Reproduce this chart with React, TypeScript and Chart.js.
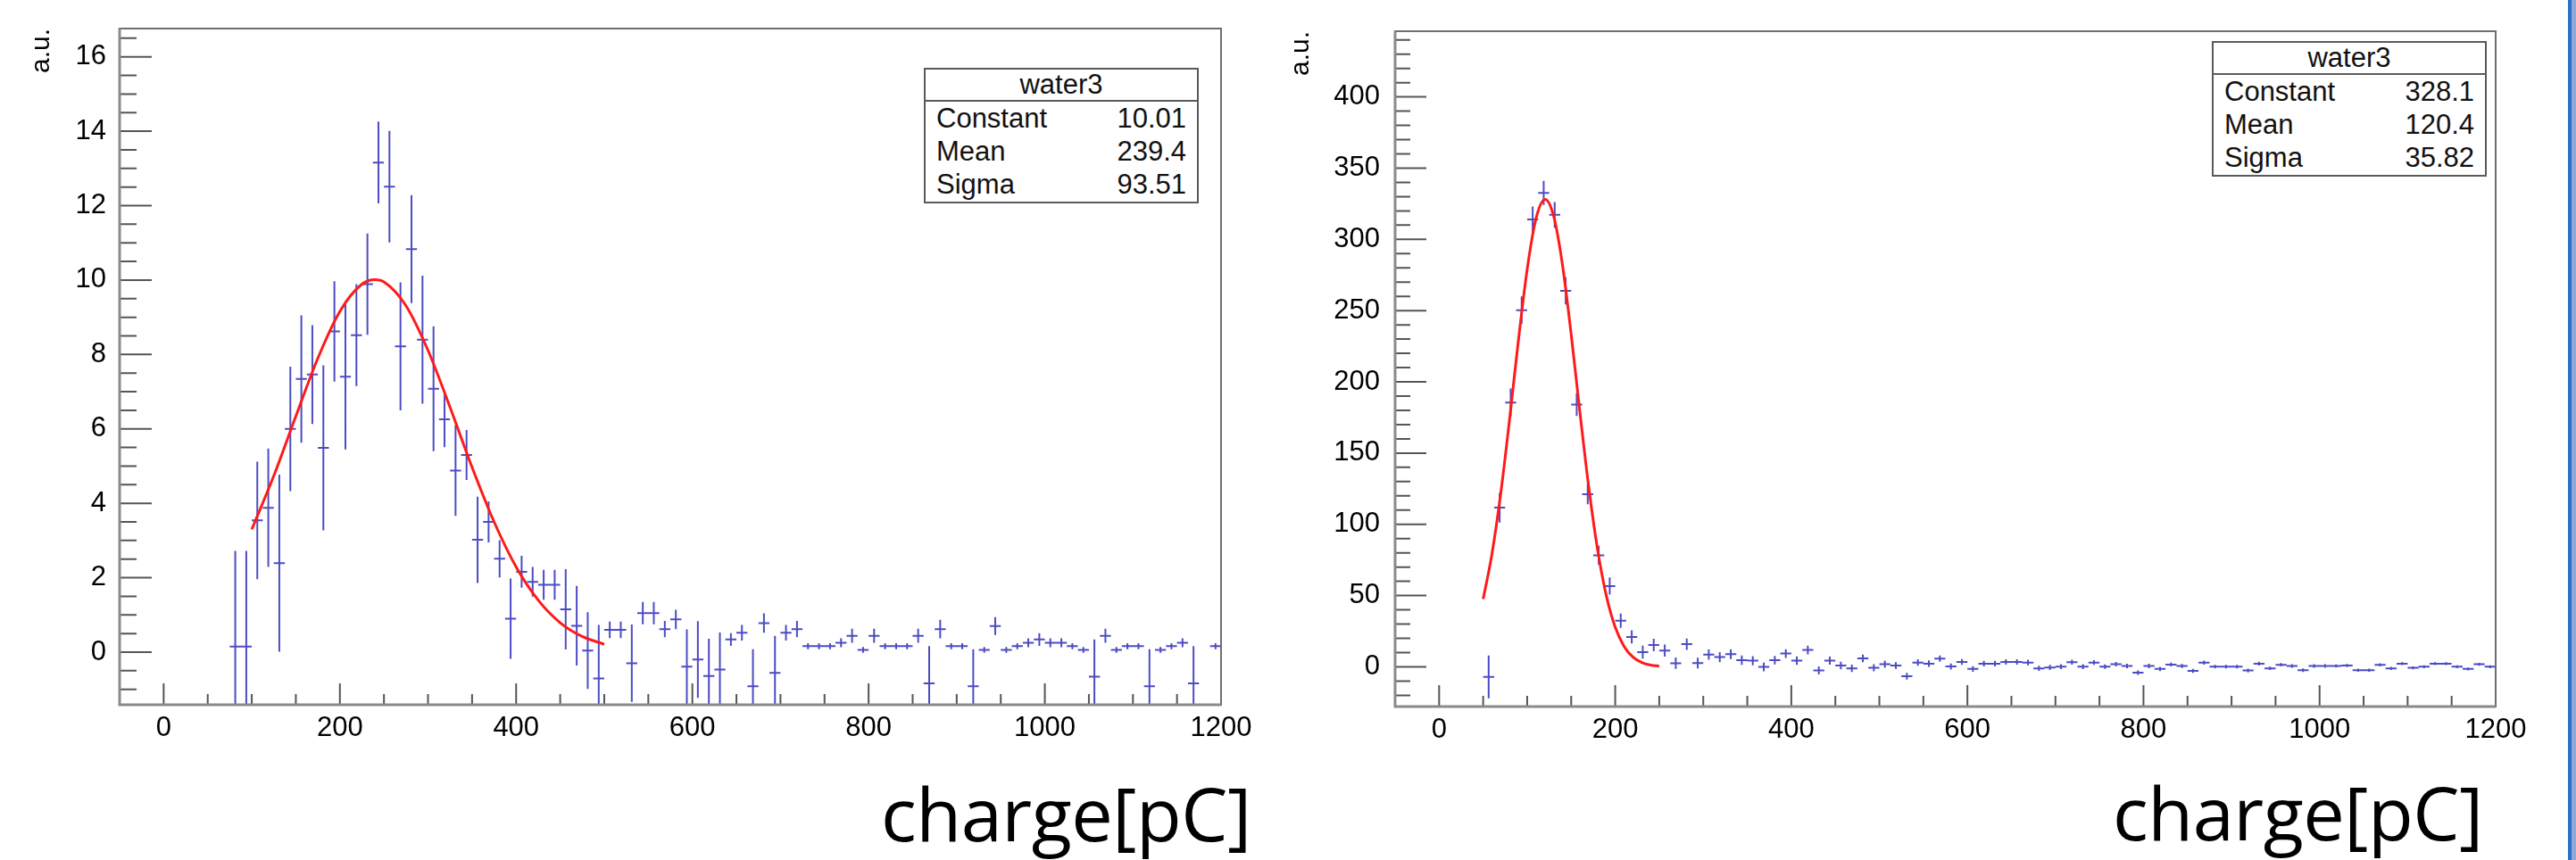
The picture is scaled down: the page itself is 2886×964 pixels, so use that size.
import React, { useEffect, useRef } from "react";
import { Chart, registerables } from "chart.js";

Chart.register(...registerables);

// ---------- shared binning / axes ----------
const X_MIN = -50;
const X_MAX = 1200;
const BIN_WIDTH = 12.5;
const X_TICKS = [0, 200, 400, 600, 800, 1000, 1200];
const X_MINOR_STEP = 50;
const AXIS_TITLE = "a.u.";
const X_TITLE = "charge[pC]";
const STAT_TITLE = "water3";
const STAT_NAMES = ["Constant", "Mean", "Sigma"];

// ---------- left panel ----------
const LEFT_FIRST_BIN_CENTER = 81.25;
const LEFT_VALUES: (number | null)[] = [
  0.15, 0.15, 3.54, 3.88, 2.39, 6.0, 7.34, 7.46, 5.49, 8.62,
  7.4, 8.52, 9.89, 13.16, 12.51, 8.22, 10.83, 8.4, 7.08, 6.26,
  4.88, 5.3, 3.02, 3.5, 2.51, 0.9, 2.16, 1.89, 1.81, 1.81,
  1.15, 0.71, 0.04, -0.71, 0.6, 0.6, -0.3, 1.05, 1.05, 0.62,
  0.88, -0.39, -0.2, -0.64, -0.47, 0.34, 0.52, -0.92, 0.78, -0.56,
  0.52, 0.62, 0.16, 0.16, 0.16, 0.25, 0.44, 0.06, 0.44, 0.16,
  0.16, 0.16, 0.44, -0.84, 0.62, 0.16, 0.16, -0.92, 0.06, 0.7,
  0.06, 0.16, 0.25, 0.34, 0.25, 0.25, 0.16, 0.06, -0.66, 0.44,
  0.06, 0.16, 0.16, -0.92, 0.06, 0.16, 0.25, -0.84, null, 0.16,
];
const LEFT_ERRORS = [
  2.57, 2.57, 1.58, 1.59, 2.38, 1.67, 1.71, 1.33, 2.22, 1.35,
  1.95, 1.37, 1.36, 1.1, 1.5, 1.72, 1.45, 1.72, 1.68, 0.75,
  1.22, 0.67, 1.16, 0.55, 0.5, 1.08, 0.43, 0.4, 0.4, 0.4,
  1.08, 1.07, 1.03, 1.44, 0.22, 0.22, 1.04, 0.3, 0.3, 0.22,
  0.26, 1.0, 1.03, 1.0, 1.0, 0.17, 0.21, 1.0, 0.26, 1.0,
  0.21, 0.22, 0.08, 0.08, 0.08, 0.12, 0.19, 0.08, 0.19, 0.08,
  0.08, 0.08, 0.19, 1.0, 0.25, 0.08, 0.08, 1.0, 0.08, 0.24,
  0.08, 0.08, 0.12, 0.17, 0.12, 0.12, 0.08, 0.08, 1.0, 0.19,
  0.08, 0.08, 0.08, 1.0, 0.08, 0.08, 0.12, 1.0, 0, 0.08,
];
const LEFT_Y_MIN = -1.415;
const LEFT_Y_MAX = 16.76;
const LEFT_Y_TICKS = [0, 2, 4, 6, 8, 10, 12, 14, 16];
const LEFT_Y_MINOR_STEP = 0.5;
const LEFT_FIT_X = [100, 125, 150, 175, 200, 225, 239.4, 250, 275, 300, 325, 350, 375, 400, 425, 450, 475, 500];
const LEFT_FIT_Y = [3.3, 4.74, 6.34, 7.9, 9.16, 9.89, 10.01, 9.95, 9.31, 8.11, 6.58, 4.97, 3.5, 2.29, 1.4, 0.79, 0.42, 0.21];
const LEFT_STAT_VALUES = ["10.01", "239.4", "93.51"];

// ---------- right panel ----------
const RIGHT_FIRST_BIN_CENTER = 56.25;
const RIGHT_VALUES: (number | null)[] = [
  -7.1, 111.7, 185.5, 250.3, 314.0, 332.6, 317.2, 263.9, 184.0, 121.1,
  78.3, 56.7, 32.4, 21.0, 10.3, 15.3, 11.4, 2.5, 15.9, 2.6,
  8.5, 6.8, 8.9, 4.7, 4.3, -0.1, 4.7, 9.3, 4.3, 11.8,
  -2.6, 4.3, 0.9, -1.1, 5.9, -0.7, 1.8, 0.9, -6.6, 3.0,
  2.2, 5.8, 0.2, 3.4, -1.5, 2.2, 2.2, 3.4, 3.4, 3.0,
  -1.1, -0.5, 0.1, 3.2, 0.1, 3.0, 0.1, 1.8, 0.6, -4.1,
  0.6, -1.5, 1.6, 0.6, -2.8, 3.0, 0.1, 0.1, 0.1, -2.6,
  2.2, -1.1, 1.4, 0.6, -2.4, 0.6, 0.6, 0.6, 0.9, -2.4,
  -2.4, 1.4, -1.1, 2.2, -0.7, 0.1, 2.2, 2.2, 0.1, -1.5,
  1.8, 0.1,
];
const RIGHT_ERRORS = [
  15, 10.4, 9.8, 9.6, 9.0, 8.5, 9.0, 9.5, 8.0, 7.0,
  6.7, 6.0, 5.0, 4.6, 4.5, 4.4, 4.2, 4.0, 4.0, 3.8,
  3.6, 3.5, 3.5, 3.3, 3.2, 3.1, 3.0, 3.0, 3.0, 3.0,
  2.8, 2.8, 2.7, 2.6, 2.6, 2.5, 2.5, 2.4, 2.4, 2.3,
  2.3, 2.2, 2.1, 2.1, 2.0, 2.0, 2.0, 1.9, 1.9, 1.9,
  1.8, 1.8, 1.7, 1.7, 1.7, 1.6, 1.6, 1.6, 1.5, 1.5,
  1.5, 1.5, 1.4, 1.4, 1.4, 1.4, 1.3, 1.3, 1.3, 1.3,
  1.3, 1.2, 1.2, 1.2, 1.2, 1.2, 1.2, 1.1, 1.1, 1.1,
  1.1, 1.1, 1.1, 1.0, 1.0, 1.0, 1.0, 1.0, 1.0, 1.0,
  1.0, 1.0,
];
const RIGHT_Y_MIN = -27.9;
const RIGHT_Y_MAX = 446.1;
const RIGHT_Y_TICKS = [0, 50, 100, 150, 200, 250, 300, 350, 400];
const RIGHT_Y_MINOR_STEP = 10;
const RIGHT_FIT_X = [50, 60, 70, 80, 90, 100, 110, 120.4, 130, 140, 150, 160, 170, 180, 190, 200, 210, 220, 230, 240, 250];
const RIGHT_FIT_Y = [47.5, 79.2, 121.9, 173.7, 228.9, 279.0, 314.6, 328.1, 316.5, 282.5, 233.2, 178.1, 125.8, 82.2, 49.7, 27.8, 14.4, 6.87, 3.04, 1.24, 0.47];
const RIGHT_STAT_VALUES = ["328.1", "120.4", "35.82"];

// ---------- styles ----------
const TICK_FONT = '"Liberation Sans", Arial, Helvetica, sans-serif';
const TICK_FONT_SIZE = 31;
const ERR_COLOR = "#4c4cc4";
const FIT_COLOR = "#ff1a1a";
const TICK_COLOR = "#555555";

function histPoints(first: number, values: (number | null)[], errors: number[]) {
  const pts: { x: number; y: number; err: number }[] = [];
  values.forEach((v, i) => {
    if (v === null) return;
    pts.push({ x: first + i * BIN_WIDTH, y: v, err: errors[i] });
  });
  return pts;
}

const rootPlugin = {
  id: "rootFrame",
  beforeDatasetsDraw(chart: any) {
    const { ctx, chartArea: a, scales } = chart;
    const x = scales.x;
    const y = scales.y;
    chart.data.datasets.forEach((ds: any) => {
      if (!ds.histogram) return;
      ctx.save();
      ctx.beginPath();
      ctx.rect(a.left, a.top, a.right - a.left, a.bottom - a.top);
      ctx.clip();
      ctx.strokeStyle = ds.errorColor;
      ctx.lineWidth = 2;
      ctx.beginPath();
      ds.data.forEach((p: any) => {
        const px = x.getPixelForValue(p.x);
        const py = y.getPixelForValue(p.y);
        ctx.moveTo(x.getPixelForValue(p.x - ds.binWidth / 2), py);
        ctx.lineTo(x.getPixelForValue(p.x + ds.binWidth / 2), py);
        if (p.err > 0) {
          ctx.moveTo(px, y.getPixelForValue(p.y + p.err));
          ctx.lineTo(px, y.getPixelForValue(p.y - p.err));
        }
      });
      ctx.stroke();
      ctx.restore();
    });
  },
  afterDraw(chart: any, _args: any, opts: any) {
    const { ctx, chartArea: a, scales } = chart;
    const x = scales.x;
    const y = scales.y;
    ctx.save();
    ctx.strokeStyle = TICK_COLOR;
    ctx.lineWidth = 2;
    ctx.beginPath();
    const isMajor = (list: number[], v: number) => list.some((t) => Math.abs(t - v) < 1e-6);
    const xStart = Math.ceil(x.min / opts.xMinorStep);
    const xEnd = Math.floor(x.max / opts.xMinorStep);
    for (let k = xStart; k <= xEnd; k++) {
      const v = k * opts.xMinorStep;
      const px = x.getPixelForValue(v);
      if (px < a.left + 2 || px > a.right - 2) continue;
      const len = isMajor(opts.xTicks, v) ? opts.xMajorLen : opts.xMinorLen;
      ctx.moveTo(px, a.bottom);
      ctx.lineTo(px, a.bottom - len);
    }
    const yStart = Math.ceil(y.min / opts.yMinorStep);
    const yEnd = Math.floor(y.max / opts.yMinorStep);
    for (let k = yStart; k <= yEnd; k++) {
      const v = k * opts.yMinorStep;
      const py = y.getPixelForValue(v);
      if (py < a.top + 2 || py > a.bottom - 2) continue;
      const len = isMajor(opts.yTicks, v) ? opts.yMajorLen : opts.yMinorLen;
      ctx.moveTo(a.left, py);
      ctx.lineTo(a.left + len, py);
    }
    ctx.stroke();
    // frame
    ctx.strokeStyle = "#6e6e6e";
    ctx.lineWidth = 2;
    ctx.strokeRect(a.left, a.top, a.right - a.left, a.bottom - a.top);
    // axis lines
    ctx.strokeStyle = "#8a8a8a";
    ctx.lineWidth = 3;
    ctx.beginPath();
    ctx.moveTo(a.left, a.top);
    ctx.lineTo(a.left, a.bottom);
    ctx.lineTo(a.right, a.bottom);
    ctx.stroke();
    ctx.restore();
  },
};

type PanelProps = {
  left: number;
  top: number;
  width: number;
  height: number;
  yAxisWidth: number;
  xAxisHeight: number;
  padTop: number;
  padRight: number;
  yMin: number;
  yMax: number;
  yTicks: number[];
  yMinorStep: number;
  yMajorLen: number;
  yMinorLen: number;
  yLabelPad: number;
  titlePad: number;
  firstCenter: number;
  values: (number | null)[];
  errors: number[];
  fitX: number[];
  fitY: number[];
};

function HistPanel(p: PanelProps) {
  const ref = useRef<HTMLCanvasElement | null>(null);
  useEffect(() => {
    if (!ref.current) return;
    const hist = histPoints(p.firstCenter, p.values, p.errors);
    const fit = p.fitX.map((xv, i) => ({ x: xv, y: p.fitY[i] }));
    const chart = new Chart(ref.current, {
      type: "scatter",
      data: {
        datasets: [
          {
            label: "water3",
            data: hist,
            pointRadius: 0,
            pointHoverRadius: 0,
            showLine: false,
            histogram: true,
            errorColor: ERR_COLOR,
            binWidth: BIN_WIDTH,
          } as any,
          {
            label: "gaus",
            data: fit,
            showLine: true,
            borderColor: FIT_COLOR,
            borderWidth: 3,
            pointRadius: 0,
            pointHoverRadius: 0,
            cubicInterpolationMode: "monotone",
            fill: false,
          } as any,
        ],
      },
      options: {
        animation: false,
        responsive: false,
        devicePixelRatio: 1,
        events: [],
        layout: { padding: { top: p.padTop, right: p.padRight, left: 0, bottom: 0 } },
        plugins: {
          legend: { display: false },
          tooltip: { enabled: false },
          rootFrame: {
            xTicks: X_TICKS,
            xMinorStep: X_MINOR_STEP,
            xMajorLen: 24,
            xMinorLen: 12,
            yTicks: p.yTicks,
            yMinorStep: p.yMinorStep,
            yMajorLen: p.yMajorLen,
            yMinorLen: p.yMinorLen,
          },
        } as any,
        scales: {
          x: {
            type: "linear",
            min: X_MIN,
            max: X_MAX,
            grid: { display: false },
            border: { display: false },
            afterBuildTicks: (s: any) => {
              s.ticks = X_TICKS.map((v) => ({ value: v }));
            },
            afterFit: (s: any) => {
              s.height = p.xAxisHeight;
            },
            ticks: {
              autoSkip: false,
              maxRotation: 0,
              minRotation: 0,
              padding: 0,
              color: "#000",
              font: { family: TICK_FONT, size: TICK_FONT_SIZE },
              callback: (v: any) => String(v),
            },
          },
          y: {
            type: "linear",
            min: p.yMin,
            max: p.yMax,
            grid: { display: false },
            border: { display: false },
            afterBuildTicks: (s: any) => {
              s.ticks = p.yTicks.map((v) => ({ value: v }));
            },
            afterFit: (s: any) => {
              s.width = p.yAxisWidth;
            },
            title: {
              display: true,
              text: AXIS_TITLE,
              align: "end",
              color: "#000",
              font: { family: TICK_FONT, size: 30 },
              padding: { top: p.titlePad, bottom: 0 },
            },
            ticks: {
              autoSkip: false,
              padding: p.yLabelPad,
              color: "#000",
              font: { family: TICK_FONT, size: TICK_FONT_SIZE },
              callback: (v: any) => String(v),
            },
          },
        },
      } as any,
      plugins: [rootPlugin],
    });
    return () => chart.destroy();
  }, []);
  return (
    <canvas
      ref={ref}
      width={p.width}
      height={p.height}
      style={{ position: "absolute", left: p.left, top: p.top, width: p.width, height: p.height }}
    />
  );
}

function StatsBox({ left, top, values }: { left: number; top: number; values: string[] }) {
  return (
    <div
      style={{
        position: "absolute",
        left,
        top,
        width: 308,
        height: 152,
        boxSizing: "border-box",
        border: "2px solid #5a5a5a",
        background: "#fff",
        fontFamily: TICK_FONT,
        fontSize: 31,
        color: "#111",
      }}
    >
      <div
        style={{
          height: 34,
          lineHeight: "34px",
          textAlign: "center",
          borderBottom: "2px solid #5a5a5a",
        }}
      >
        {STAT_TITLE}
      </div>
      {STAT_NAMES.map((n, i) => (
        <div
          key={n}
          style={{
            display: "flex",
            justifyContent: "space-between",
            height: 37,
            lineHeight: "37px",
            padding: "0 12px",
          }}
        >
          <span>{n}</span>
          <span>{values[i]}</span>
        </div>
      ))}
    </div>
  );
}

function BigTitle({ left, top }: { left: number; top: number }) {
  return (
    <div
      style={{
        position: "absolute",
        left,
        top,
        fontFamily: '"Open Sans", "Noto Sans", sans-serif',
        fontSize: 83,
        lineHeight: "100px",
        letterSpacing: "-0.5px",
        color: "#000",
        whiteSpace: "nowrap",
      }}
    >
      {X_TITLE}
    </div>
  );
}

export default function App() {
  return (
    <div
      style={{
        position: "absolute",
        left: 0,
        top: 0,
        width: 2886,
        height: 964,
        overflow: "hidden",
        background: "#fff",
      }}
    >
      <HistPanel
        left={0}
        top={0}
        width={1420}
        height={860}
        yAxisWidth={134}
        xAxisHeight={70}
        padTop={32}
        padRight={52}
        yMin={LEFT_Y_MIN}
        yMax={LEFT_Y_MAX}
        yTicks={LEFT_Y_TICKS}
        yMinorStep={LEFT_Y_MINOR_STEP}
        yMajorLen={36}
        yMinorLen={19}
        yLabelPad={7}
        titlePad={29}
        firstCenter={LEFT_FIRST_BIN_CENTER}
        values={LEFT_VALUES}
        errors={LEFT_ERRORS}
        fitX={LEFT_FIT_X}
        fitY={LEFT_FIT_Y}
      />
      <HistPanel
        left={1440}
        top={0}
        width={1420}
        height={870}
        yAxisWidth={123}
        xAxisHeight={78}
        padTop={35}
        padRight={64}
        yMin={RIGHT_Y_MIN}
        yMax={RIGHT_Y_MAX}
        yTicks={RIGHT_Y_TICKS}
        yMinorStep={RIGHT_Y_MINOR_STEP}
        yMajorLen={35}
        yMinorLen={17}
        yLabelPad={9}
        titlePad={0}
        firstCenter={RIGHT_FIRST_BIN_CENTER}
        values={RIGHT_VALUES}
        errors={RIGHT_ERRORS}
        fitX={RIGHT_FIT_X}
        fitY={RIGHT_FIT_Y}
      />
      <StatsBox left={1035} top={76} values={LEFT_STAT_VALUES} />
      <StatsBox left={2478} top={46} values={RIGHT_STAT_VALUES} />
      <BigTitle left={987} top={861} />
      <BigTitle left={2367} top={860} />
      <div
        style={{
          position: "absolute",
          left: 2877,
          top: 0,
          width: 9,
          height: 964,
          boxSizing: "border-box",
          borderLeft: "4px solid #2c6fc4",
          background: "#8eaadb",
        }}
      />
    </div>
  );
}
